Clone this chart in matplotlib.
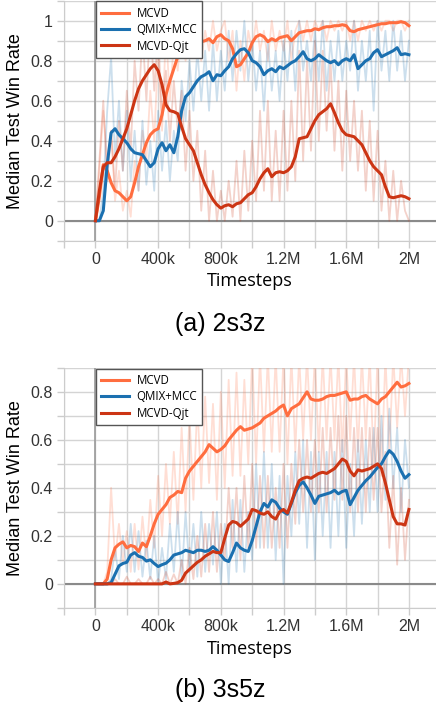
import matplotlib

matplotlib.use("Agg")
import matplotlib.pyplot as plt
import numpy as np
from matplotlib.ticker import FixedLocator, MultipleLocator

# timesteps: one reading every 25k, 0 .. 2M
steps = np.arange(81) * 25_000

# ---- (a) 2s3z : smoothed medians ----
a_mcvd = [0.00, 0.12, 0.28, 0.25, 0.19, 0.15, 0.14, 0.12, 0.10, 0.12,
          0.19, 0.27, 0.33, 0.39, 0.43, 0.45, 0.46, 0.53, 0.63, 0.70,
          0.76, 0.82, 0.85, 0.87, 0.88, 0.89, 0.90, 0.895, 0.90, 0.91,
          0.89, 0.92, 0.93, 0.91, 0.90, 0.86, 0.77, 0.78, 0.81, 0.84,
          0.89, 0.92, 0.93, 0.92, 0.895, 0.91, 0.90, 0.915, 0.92, 0.925,
          0.90, 0.92, 0.94, 0.945, 0.95, 0.95, 0.96, 0.955, 0.965, 0.97,
          0.97, 0.975, 0.975, 0.98, 0.975, 0.95, 0.945, 0.955, 0.96, 0.965,
          0.97, 0.975, 0.98, 0.985, 0.985, 0.99, 0.99, 0.99, 0.995, 0.99,
          0.975]
a_qmix = [0.00, 0.00, 0.05, 0.28, 0.44, 0.46, 0.43, 0.41, 0.39, 0.36,
          0.34, 0.335, 0.33, 0.30, 0.27, 0.29, 0.36, 0.39, 0.35, 0.38,
          0.34, 0.42, 0.55, 0.62, 0.64, 0.67, 0.70, 0.72, 0.73, 0.745,
          0.70, 0.73, 0.725, 0.75, 0.77, 0.81, 0.835, 0.855, 0.86, 0.84,
          0.80, 0.79, 0.77, 0.73, 0.75, 0.76, 0.745, 0.77, 0.76, 0.775,
          0.79, 0.80, 0.82, 0.845, 0.81, 0.80, 0.81, 0.83, 0.815, 0.80,
          0.79, 0.80, 0.78, 0.80, 0.81, 0.80, 0.83, 0.76, 0.78, 0.80,
          0.81, 0.84, 0.855, 0.82, 0.83, 0.84, 0.85, 0.865, 0.83, 0.835,
          0.83]
a_qjt = [0.00, 0.15, 0.27, 0.29, 0.29, 0.32, 0.36, 0.41, 0.46, 0.53,
         0.60, 0.66, 0.70, 0.73, 0.76, 0.78, 0.75, 0.68, 0.58, 0.55,
         0.545, 0.535, 0.47, 0.41, 0.38, 0.35, 0.29, 0.23, 0.18, 0.14,
         0.105, 0.08, 0.063, 0.075, 0.08, 0.07, 0.085, 0.09, 0.11, 0.13,
         0.14, 0.17, 0.21, 0.24, 0.26, 0.22, 0.24, 0.245, 0.24, 0.25,
         0.27, 0.32, 0.41, 0.415, 0.42, 0.46, 0.50, 0.53, 0.545, 0.56,
         0.585, 0.54, 0.49, 0.45, 0.43, 0.425, 0.42, 0.40, 0.38, 0.34,
         0.30, 0.27, 0.25, 0.23, 0.17, 0.12, 0.115, 0.12, 0.125, 0.12,
         0.11]

# ---- (a) 2s3z : raw (unsmoothed) runs ----
a_mcvd_raw = [0.00, 0.25, 0.55, 0.30, 0.45, 0.10, 0.25, 0.05, 0.15, 0.02,
              0.30, 0.15, 0.45, 0.30, 0.65, 0.40, 0.85, 0.45, 0.95, 0.60,
              0.90, 0.75, 1.00, 0.80, 0.95, 0.85, 1.00, 0.80, 0.95, 0.85,
              1.00, 0.85, 0.95, 1.00, 0.80, 0.95, 0.65, 0.90, 0.70, 0.95,
              0.85, 1.00, 0.85, 0.95, 0.80, 1.00, 0.85, 0.95, 0.85, 1.00,
              0.80, 0.95, 1.00, 0.90, 1.00, 0.90, 1.00, 0.95, 1.00, 0.90,
              1.00, 0.95, 1.00, 0.95, 1.00, 0.90, 1.00, 0.90, 1.00, 0.95,
              1.00, 0.95, 1.00, 0.95, 1.00, 1.00, 0.95, 1.00, 1.00, 0.95,
              1.00]
a_qmix_raw = [0.00, 0.00, 0.15, 0.55, 0.82, 0.30, 0.60, 0.25, 0.55, 0.20,
              0.45, 0.15, 0.50, 0.18, 0.40, 0.15, 0.55, 0.25, 0.50, 0.20,
              0.45, 0.30, 0.70, 0.50, 0.80, 0.55, 0.85, 0.60, 0.85, 0.55,
              0.90, 0.60, 0.85, 0.65, 0.95, 0.70, 0.95, 0.75, 1.00, 0.70,
              0.90, 0.65, 0.85, 0.55, 0.90, 0.65, 0.85, 0.60, 0.90, 0.70,
              0.95, 0.65, 1.00, 0.75, 0.90, 0.70, 0.95, 0.70, 1.00, 0.65,
              0.90, 0.70, 0.95, 0.70, 0.90, 0.75, 1.00, 0.65, 0.90, 0.70,
              0.95, 0.55, 1.00, 0.75, 0.95, 0.70, 1.00, 0.75, 0.95, 0.70,
              0.90]
a_qjt_raw = [0.00, 0.30, 0.60, 0.20, 0.45, 0.15, 0.50, 0.25, 0.65, 0.35,
             0.80, 0.55, 0.95, 0.60, 1.00, 0.65, 0.95, 0.50, 0.75, 0.40,
             0.70, 0.45, 0.65, 0.25, 0.55, 0.20, 0.45, 0.05, 0.35, 0.00,
             0.25, 0.00, 0.15, 0.00, 0.20, 0.02, 0.30, 0.00, 0.35, 0.05,
             0.40, 0.10, 0.55, 0.15, 0.60, 0.10, 0.45, 0.10, 0.55, 0.15,
             0.60, 0.20, 0.85, 0.30, 0.80, 0.35, 0.90, 0.40, 0.85, 0.45,
             0.80, 0.35, 0.70, 0.25, 0.65, 0.30, 0.60, 0.25, 0.55, 0.15,
             0.50, 0.10, 0.45, 0.05, 0.30, 0.00, 0.25, 0.00, 0.20, 0.05,
             0.00]

# ---- (b) 3s5z : smoothed medians ----
b_mcvd = [0.00, 0.00, 0.00, 0.02, 0.10, 0.15, 0.165, 0.175, 0.15, 0.16,
          0.155, 0.135, 0.17, 0.155, 0.20, 0.25, 0.29, 0.31, 0.33, 0.36,
          0.37, 0.385, 0.38, 0.44, 0.47, 0.49, 0.51, 0.53, 0.55, 0.58,
          0.565, 0.55, 0.56, 0.575, 0.60, 0.62, 0.64, 0.655, 0.64, 0.645,
          0.65, 0.66, 0.67, 0.69, 0.70, 0.71, 0.72, 0.735, 0.745, 0.70,
          0.73, 0.74, 0.75, 0.775, 0.80, 0.77, 0.765, 0.765, 0.77, 0.78,
          0.785, 0.785, 0.79, 0.795, 0.80, 0.765, 0.77, 0.77, 0.78, 0.785,
          0.77, 0.76, 0.75, 0.77, 0.78, 0.80, 0.82, 0.84, 0.82, 0.825,
          0.835]
b_qmix = [0.00, 0.00, 0.00, 0.00, 0.005, 0.04, 0.075, 0.085, 0.09, 0.12,
          0.13, 0.115, 0.11, 0.095, 0.10, 0.085, 0.072, 0.08, 0.086, 0.10,
          0.12, 0.125, 0.13, 0.14, 0.135, 0.13, 0.14, 0.14, 0.135, 0.14,
          0.155, 0.14, 0.12, 0.10, 0.093, 0.13, 0.17, 0.15, 0.14, 0.135,
          0.18, 0.24, 0.30, 0.335, 0.32, 0.35, 0.34, 0.315, 0.30, 0.29,
          0.335, 0.38, 0.41, 0.425, 0.40, 0.37, 0.335, 0.365, 0.37, 0.375,
          0.38, 0.39, 0.375, 0.385, 0.39, 0.33, 0.36, 0.39, 0.41, 0.43,
          0.445, 0.465, 0.485, 0.50, 0.53, 0.555, 0.54, 0.51, 0.47, 0.44,
          0.455]
b_qjt = [0.00, 0.00, 0.00, 0.00, 0.00, 0.00, 0.00, 0.00, 0.00, 0.00,
         0.00, 0.00, 0.00, 0.00, 0.00, 0.00, 0.00, 0.00, 0.008, 0.00,
         0.002, 0.005, 0.015, 0.045, 0.06, 0.075, 0.09, 0.10, 0.115, 0.125,
         0.135, 0.13, 0.13, 0.19, 0.245, 0.26, 0.255, 0.24, 0.255, 0.27,
         0.31, 0.305, 0.295, 0.29, 0.30, 0.28, 0.27, 0.30, 0.31, 0.295,
         0.34, 0.39, 0.43, 0.44, 0.445, 0.44, 0.45, 0.46, 0.465, 0.46,
         0.47, 0.48, 0.50, 0.52, 0.51, 0.47, 0.45, 0.475, 0.47, 0.475,
         0.48, 0.49, 0.50, 0.48, 0.42, 0.35, 0.28, 0.25, 0.25, 0.245,
         0.31]

# ---- (b) 3s5z : raw (unsmoothed) runs ----
b_mcvd_raw = [0.00, 0.00, 0.00, 0.05, 0.40, 0.10, 0.25, 0.08, 0.22, 0.05,
              0.25, 0.06, 0.28, 0.10, 0.35, 0.15, 0.45, 0.20, 0.50, 0.25,
              0.55, 0.25, 0.65, 0.30, 0.70, 0.35, 0.75, 0.40, 0.78, 0.42,
              0.75, 0.35, 0.80, 0.40, 0.85, 0.45, 0.88, 0.45, 0.85, 0.50,
              0.95, 0.50, 0.95, 0.55, 0.95, 0.55, 0.95, 0.55, 0.95, 0.50,
              0.95, 0.55, 0.95, 0.60, 0.95, 0.60, 0.95, 0.55, 0.95, 0.60,
              0.95, 0.60, 0.95, 0.55, 0.95, 0.60, 0.95, 0.55, 0.95, 0.60,
              0.95, 0.50, 0.95, 0.45, 0.95, 0.55, 0.95, 0.65, 0.95, 0.70,
              0.95]
b_qmix_raw = [0.00, 0.00, 0.00, 0.00, 0.02, 0.15, 0.02, 0.20, 0.05, 0.25,
              0.05, 0.22, 0.03, 0.18, 0.02, 0.20, 0.00, 0.15, 0.02, 0.25,
              0.05, 0.30, 0.02, 0.30, 0.05, 0.25, 0.03, 0.30, 0.05, 0.25,
              0.08, 0.30, 0.00, 0.25, 0.00, 0.35, 0.05, 0.35, 0.05, 0.30,
              0.10, 0.50, 0.15, 0.55, 0.15, 0.50, 0.10, 0.45, 0.00, 0.45,
              0.20, 0.55, 0.25, 0.60, 0.15, 0.55, 0.10, 0.55, 0.20, 0.55,
              0.15, 0.55, 0.20, 0.60, 0.15, 0.50, 0.20, 0.60, 0.25, 0.60,
              0.30, 0.65, 0.30, 0.70, 0.35, 0.73, 0.40, 0.65, 0.30, 0.60,
              0.40]
b_qjt_raw = [0.00, 0.00, 0.00, 0.00, 0.00, 0.02, 0.00, 0.00, 0.03, 0.00,
             0.00, 0.02, 0.00, 0.00, 0.03, 0.00, 0.02, 0.00, 0.05, 0.00,
             0.04, 0.00, 0.10, 0.00, 0.15, 0.02, 0.20, 0.03, 0.25, 0.05,
             0.30, 0.05, 0.25, 0.10, 0.40, 0.15, 0.40, 0.10, 0.45, 0.15,
             0.50, 0.15, 0.45, 0.15, 0.45, 0.15, 0.40, 0.15, 0.50, 0.15,
             0.50, 0.25, 0.60, 0.30, 0.60, 0.30, 0.60, 0.30, 0.65, 0.30,
             0.65, 0.35, 0.70, 0.35, 0.70, 0.30, 0.65, 0.30, 0.65, 0.30,
             0.65, 0.35, 0.65, 0.30, 0.55, 0.15, 0.45, 0.08, 0.40, 0.10,
             0.35]

labels = ["MCVD", "QMIX+MCC", "MCVD-Qjt"]
colors = ["#ff6d3f", "#1b70b0", "#cc3514"]
x_ticks = [0, 400_000, 800_000, 1_200_000, 1_600_000, 2_000_000]
x_ticklabels = ["0", "400k", "800k", "1.2M", "1.6M", "2M"]

TICK_FONT = "Liberation Sans"
TEXT_FONT = ["Open Sans", "DejaVu Sans"]


def draw_panel(ax, smooth, raw, ymax, yticks, yticklabels):
    for series, c in zip(raw, colors):
        ax.plot(steps, series, color=c, alpha=0.22, linewidth=1.3, zorder=2)
    for series, c, lab in zip(smooth, colors, labels):
        ax.plot(steps, series, color=c, linewidth=2.2, label=lab, zorder=3)

    ax.set_xlim(-200_000, 2_170_000)
    ax.set_ylim(-0.1, ymax)
    ax.xaxis.set_major_locator(FixedLocator(x_ticks))
    ax.xaxis.set_minor_locator(MultipleLocator(200_000))
    ax.set_xticklabels(x_ticklabels)
    ax.yaxis.set_major_locator(FixedLocator(yticks))
    ax.yaxis.set_minor_locator(MultipleLocator(0.1))
    ax.set_yticklabels(yticklabels)
    ax.grid(True, which="both", color="#d4d4d4", linewidth=1.0, zorder=0)
    ax.set_axisbelow(True)
    ax.axhline(0, color="#8a8a8a", linewidth=1.5, zorder=1)
    ax.axvline(0, color="#9a9a9a", linewidth=1.2, zorder=1)

    for side in ("top", "right"):
        ax.spines[side].set_visible(False)
    for side in ("left", "bottom"):
        ax.spines[side].set_color("#cccccc")
    ax.tick_params(which="both", length=5, color="#cccccc", width=1.0)
    ax.tick_params(labelsize=11.5, labelcolor="#333333", pad=3)
    for t in ax.get_xticklabels() + ax.get_yticklabels():
        t.set_family(TICK_FONT)

    ax.set_xlabel("Timesteps", fontsize=13, family=TEXT_FONT, labelpad=4)
    ax.set_ylabel("Median Test Win Rate", fontsize=13, family=TICK_FONT, labelpad=5)

    leg = ax.legend(loc="upper left", bbox_to_anchor=(0.085, 0.997),
                    prop={"family": TEXT_FONT, "size": 8.3},
                    frameon=True, fancybox=False, borderaxespad=0,
                    handlelength=2.4, handletextpad=0.7, labelspacing=0.3,
                    borderpad=0.45)
    leg.get_frame().set_edgecolor("#555555")
    leg.get_frame().set_linewidth(1.0)
    leg.get_frame().set_alpha(1.0)
    leg.set_zorder(5)


fig = plt.figure(figsize=(4.36, 7.06), dpi=100)
ax_a = fig.add_axes([0.147, 0.659, 0.852, 0.340])
ax_b = fig.add_axes([0.147, 0.139, 0.852, 0.340])

draw_panel(ax_a, [a_mcvd, a_qmix, a_qjt], [a_mcvd_raw, a_qmix_raw, a_qjt_raw],
           1.1, [0, 0.2, 0.4, 0.6, 0.8, 1.0], ["0", "0.2", "0.4", "0.6", "0.8", "1"])
draw_panel(ax_b, [b_mcvd, b_qmix, b_qjt], [b_mcvd_raw, b_qmix_raw, b_qjt_raw],
           0.9, [0, 0.2, 0.4, 0.6, 0.8], ["0", "0.2", "0.4", "0.6", "0.8"])

fig.text(0.505, 1 - 324 / 706, "(a) 2s3z", ha="center", va="center",
         fontsize=18, family=TICK_FONT)
fig.text(0.505, 1 - 690 / 706, "(b) 3s5z", ha="center", va="center",
         fontsize=18, family=TICK_FONT)

fig.savefig("out.png", dpi=100)
